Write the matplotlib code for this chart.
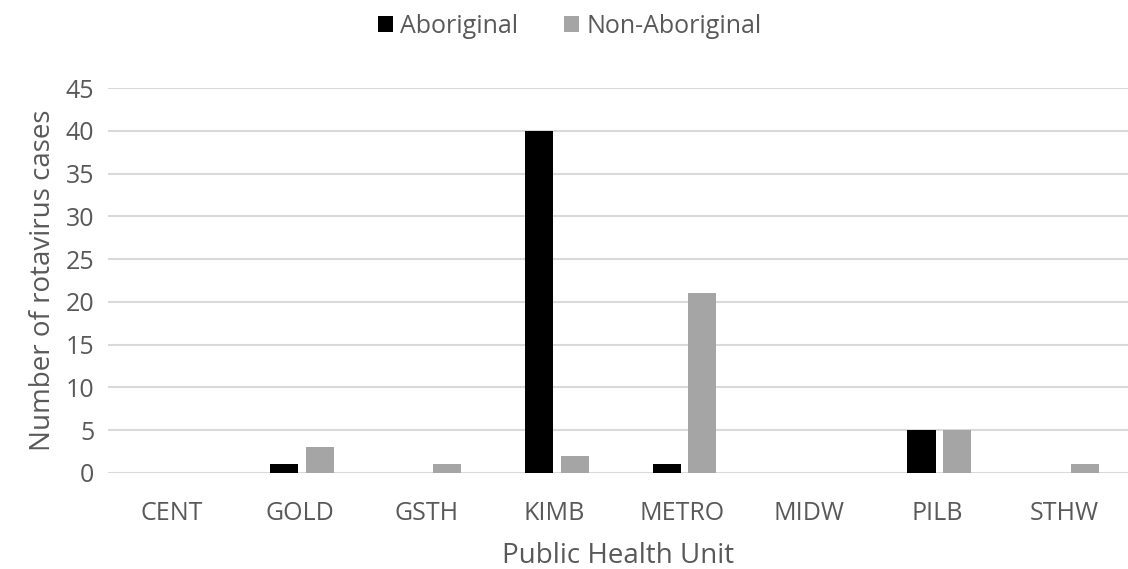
import numpy as np
import matplotlib.pyplot as plt

# Rotavirus cases by public health unit
units = ["CENT", "GOLD", "GSTH", "KIMB", "METRO", "MIDW", "PILB", "STHW"]
aboriginal = [0, 1, 0, 40, 1, 0, 5, 0]
non_aboriginal = [0, 3, 1, 2, 21, 0, 5, 1]

plt.rcParams['font.family'] = ['Open Sans', 'DejaVu Sans']
text_col = "#595959"

fig = plt.figure(figsize=(11.28, 5.69), dpi=100)
ax = fig.add_axes([0.096, 0.169, 0.904, 0.676])

x = np.arange(len(units))
w = 0.22
ax.bar(x - 0.12, aboriginal, w, color="black", label="Aboriginal", zorder=3)
ax.bar(x + 0.16, non_aboriginal, w, color="#A5A5A5", label="Non-Aboriginal", zorder=3)

ax.set_xlim(-0.5, len(units) - 0.5)
ax.set_ylim(0, 45)
ax.set_yticks(range(0, 46, 5))
ax.set_xticks(x)
ax.set_xticklabels(units)
ax.grid(axis="y", color="#D9D9D9", linewidth=1.5, zorder=0)
for s in ax.spines.values():
    s.set_visible(False)
ax.tick_params(length=0, labelsize=18, colors=text_col)
ax.tick_params(axis="y", pad=10)
ax.tick_params(axis="x", pad=20)

ax.set_xlabel("Public Health Unit", fontsize=20, color=text_col, labelpad=12)
ax.set_ylabel("Number of rotavirus cases", fontsize=20, color=text_col, labelpad=6)

fig.legend(loc="upper center", bbox_to_anchor=(0.505, 1.015), ncol=2, frameon=False,
           fontsize=18, labelcolor=text_col, handlelength=0.6, handleheight=0.6,
           handletextpad=0.3, columnspacing=1.8)

fig.savefig("out.png", dpi=100)
